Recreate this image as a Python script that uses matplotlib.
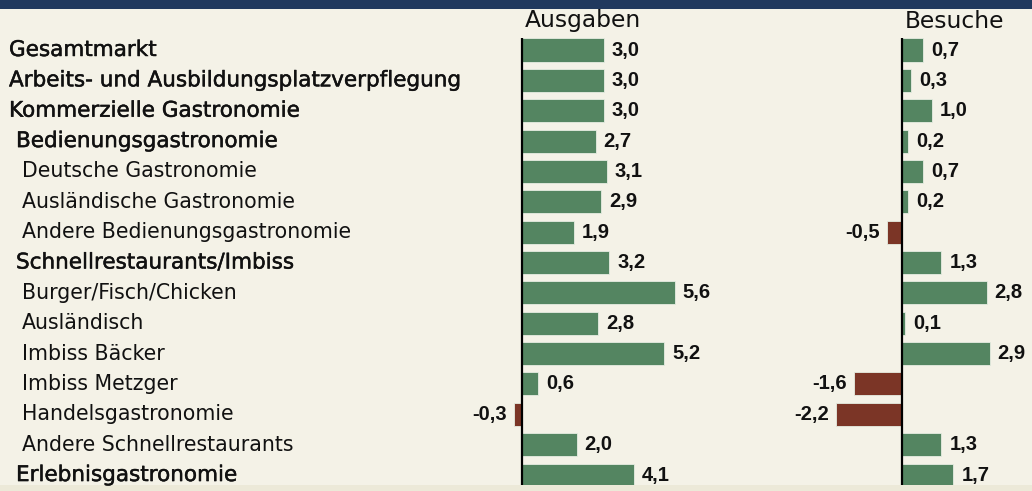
import matplotlib
matplotlib.use("Agg")
import matplotlib.pyplot as plt
import matplotlib.transforms as mtrans
import matplotlib.patheffects as pe
from matplotlib.patches import Rectangle

categories = [
    "Gesamtmarkt",
    "Arbeits- und Ausbildungsplatzverpflegung",
    "Kommerzielle Gastronomie",
    "Bedienungsgastronomie",
    "Deutsche Gastronomie",
    "Ausländische Gastronomie",
    "Andere Bedienungsgastronomie",
    "Schnellrestaurants/Imbiss",
    "Burger/Fisch/Chicken",
    "Ausländisch",
    "Imbiss Bäcker",
    "Imbiss Metzger",
    "Handelsgastronomie",
    "Andere Schnellrestaurants",
    "Erlebnisgastronomie",
]
levels = [0, 0, 0, 1, 2, 2, 2, 1, 2, 2, 2, 2, 2, 2, 1]
ausgaben = [3.0, 3.0, 3.0, 2.7, 3.1, 2.9, 1.9, 3.2, 5.6, 2.8, 5.2, 0.6, -0.3, 2.0, 4.1]
besuche = [0.7, 0.3, 1.0, 0.2, 0.7, 0.2, -0.5, 1.3, 2.8, 0.1, 2.9, -1.6, -2.2, 1.3, 1.7]
titles = ["Ausgaben", "Besuche"]

W, H = 1032, 491
BG = "#F4F2E7"
NAVY = "#21395E"
GREEN = "#548561"
RED = "#7B3526"

fig = plt.figure(figsize=(W / 100, H / 100), dpi=100)
fig.patch.set_facecolor(BG)

# top band and bottom strip
fig.patches.append(Rectangle((0, 1 - 9 / H), 1, 9 / H, transform=fig.transFigure,
                             facecolor=NAVY, edgecolor="none", zorder=0))
fig.patches.append(Rectangle((0, 0), 1, 6 / H, transform=fig.transFigure,
                             facecolor="#ECE9D8", edgecolor="none", zorder=0))

row0, rstep = 50.0, 30.36
top_px, bot_px = 38, 487
ylim = ((bot_px - row0) / rstep, (top_px - row0) / rstep)


def make_ax(left_px, right_px, zero_px, scale):
    ax = fig.add_axes([left_px / W, 1 - bot_px / H, (right_px - left_px) / W,
                       (bot_px - top_px) / H])
    ax.set_xlim((left_px - zero_px) / scale, (right_px - zero_px) / scale)
    ax.set_ylim(*ylim)
    ax.axis("off")
    return ax


ax1 = make_ax(440, 800, 522, 27.3)
ax2 = make_ax(810, 1032, 902, 30.2)

ypos = list(range(len(categories)))
for ax, vals, title, zpx in [(ax1, ausgaben, titles[0], 522), (ax2, besuche, titles[1], 902)]:
    colors = [GREEN if v >= 0 else RED for v in vals]
    ax.barh(ypos, vals, height=0.76, color=colors, edgecolor="#E6EDE2",
            linewidth=0.6, zorder=2)
    ax.axvline(0, color="black", lw=1.6, zorder=3)
    off = mtrans.offset_copy(ax.transData, fig=fig, x=8, y=0, units="dots")
    offn = mtrans.offset_copy(ax.transData, fig=fig, x=-7, y=0, units="dots")
    for y, v in zip(ypos, vals):
        s = f"{v:.1f}".replace(".", ",")
        if v >= 0:
            ax.text(v, y, s, transform=off, ha="left", va="center",
                    fontsize=14.5, fontweight="bold", family="Liberation Sans",
                    color="#111111", clip_on=False)
        else:
            ax.text(v, y, s, transform=offn, ha="right", va="center",
                    fontsize=14.5, fontweight="bold", family="Liberation Sans",
                    color="#111111", clip_on=False)
    fig.text(zpx / W + 3 / W, 1 - 21 / H, title, ha="left", va="center",
             fontsize=16.8, family="DejaVu Sans", color="#111111")

blend = mtrans.blended_transform_factory(fig.transFigure, ax1.transData)
xoff = {0: 9, 1: 16, 2: 22}
for y, (lab, lvl) in enumerate(zip(categories, levels)):
    kw = {}
    size = 14.8
    if lvl < 2:
        kw["path_effects"] = [pe.withStroke(linewidth=0.35, foreground="#111111")]
        size = 15.5
    fig.text(xoff[lvl] / W, y, lab, transform=blend, ha="left", va="center",
             fontsize=size, family="DejaVu Sans", color="#111111", **kw)

fig.savefig("out.png", dpi=100, facecolor=BG)
